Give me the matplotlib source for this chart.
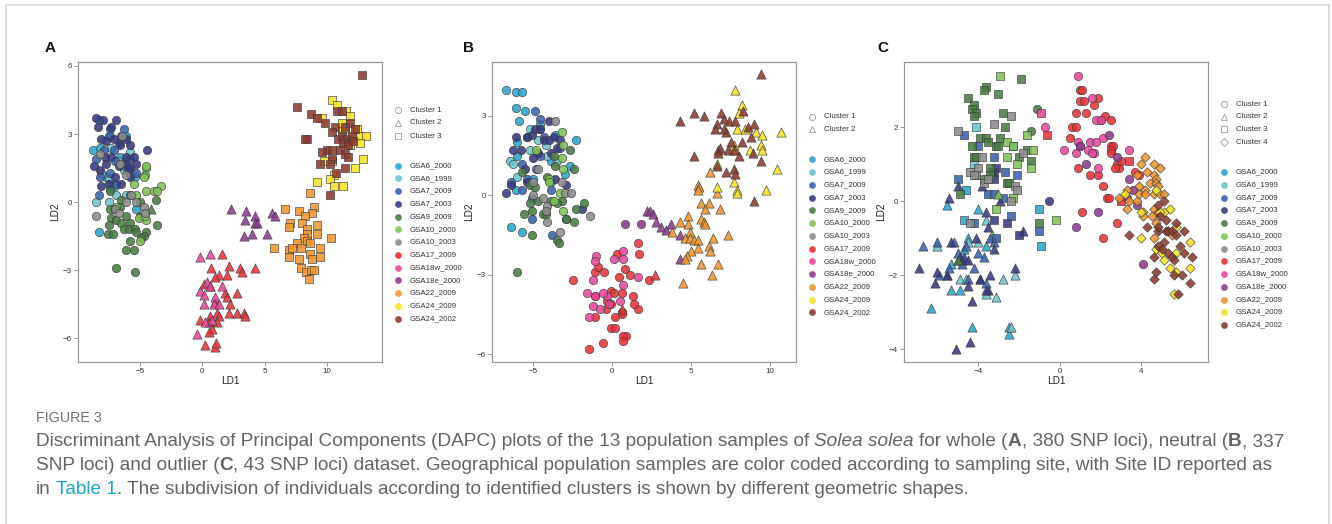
import matplotlib
matplotlib.use("Agg")
import matplotlib.pyplot as plt
from matplotlib.lines import Line2D
from matplotlib.patches import Rectangle

W, H = 1332, 524
plt.rcParams['font.family'] = ['Liberation Sans', 'DejaVu Sans']

pops = ['GSA6_2000', 'GSA6_1999', 'GSA7_2009', 'GSA7_2003', 'GSA9_2009',
        'GSA10_2000', 'GSA10_2003', 'GSA17_2009', 'GSA18w_2000', 'GSA18e_2000',
        'GSA22_2009', 'GSA24_2009', 'GSA24_2002']
pop_colors = ['#2ba6cb', '#6cc4cc', '#3a62ae', '#363a80', '#4a7c45',
              '#80c257', '#8c8c8c', '#e8333a', '#e8479b', '#8b3c8d',
              '#f0952e', '#f5e423', '#8c3a2e']
cluster_markers = {1: 'o', 2: '^', 3: 's', 4: 'D'}
cluster_sizes = {1: 36, 2: 44, 3: 31, 4: 23}

# (LD1, LD2, cluster) for each individual
A_points = {
    'GSA6_2000': [(-8.8, 2.3, 1), (-8.2, 2.4, 1), (-6.1, 2.9, 1), (-8.3, 3.6, 1), (-5.4, 1.1, 1), (-5.3, -0.3, 1),
                  (-8.3, -1.3, 1), (-7.4, 2.9, 1), (-6.6, 2.0, 1), (-7.0, 0.7, 1), (-7.7, 1.1, 1)],
    'GSA6_1999': [(-8.5, 0.0, 1), (-7.5, 0.0, 1), (-6.9, 0.3, 1), (-7.3, 2.4, 1), (-5.8, 2.2, 1), (-8.1, 1.3, 1),
                  (-6.8, 1.8, 1), (-6.3, 1.4, 1), (-7.5, 1.0, 1), (-6.1, 0.3, 1)],
    'GSA7_2009': [(-7.4, 3.2, 1), (-7.5, 2.9, 1), (-6.7, 2.6, 1), (-7.1, 2.3, 1), (-8.5, 1.9, 1), (-7.9, 2.3, 1),
                  (-6.2, 1.6, 1), (-7.4, 1.3, 1), (-8.2, 1.1, 1), (-6.9, 0.8, 1), (-5.8, 1.9, 1), (-6.3, 3.2, 1),
                  (-5.3, 1.3, 1), (-8.3, 0.3, 1), (-7.4, 0.6, 1), (-5.9, 1.4, 1), (-7.0, 1.8, 1)],
    'GSA7_2003': [(-8.5, 3.7, 1), (-8.0, 3.6, 1), (-6.9, 3.6, 1), (-7.3, 3.3, 1), (-8.4, 3.3, 1), (-8.1, 2.8, 1),
                  (-7.7, 2.7, 1), (-7.1, 2.8, 1), (-6.5, 2.9, 1), (-6.1, 2.8, 1), (-5.8, 2.5, 1), (-5.5, 2.0, 1),
                  (-4.4, 2.3, 1), (-8.7, 1.6, 1), (-8.2, 1.4, 1), (-7.7, 1.7, 1), (-6.7, 1.6, 1), (-6.1, 1.7, 1),
                  (-5.8, 1.5, 1), (-5.3, 1.7, 1), (-7.0, 1.1, 1), (-8.1, 0.7, 1), (-7.5, 0.8, 1), (-6.5, 0.8, 1),
                  (-6.1, 2.0, 1), (-6.6, 2.5, 1), (-5.8, 1.1, 1), (-7.8, 2.0, 1), (-7.3, 2.0, 1)],
    'GSA9_2009': [(-7.4, 0.5, 1), (-6.5, 0.1, 1), (-7.1, -0.3, 1), (-7.4, -0.3, 1), (-6.6, -0.2, 1), (-5.0, 0.0, 1),
                  (-5.8, 0.3, 1), (-7.3, -0.7, 1), (-6.9, -0.8, 1), (-6.5, -0.9, 1), (-6.1, -0.6, 1), (-5.8, -0.9, 1),
                  (-7.5, -1.0, 1), (-6.3, -1.2, 1), (-5.9, -1.2, 1), (-5.4, -1.2, 1), (-5.3, -1.3, 1), (-4.5, -1.3, 1),
                  (-4.7, -1.5, 1), (-4.9, -1.6, 1), (-5.8, -1.7, 1), (-6.1, -2.1, 1), (-5.5, -2.1, 1), (-6.9, -2.9, 1),
                  (-5.4, -3.1, 1), (-3.7, 0.1, 1), (-3.6, -1.0, 1), (-7.6, -1.4, 1), (-7.2, -1.4, 1), (-5.0, -0.6, 1),
                  (-4.1, -0.3, 2)],
    'GSA10_2000': [(-4.5, 1.5, 1), (-4.6, 1.2, 1), (-4.7, 1.1, 1), (-3.3, 0.7, 1), (-3.9, 0.5, 1), (-3.6, 0.5, 1),
                   (-4.5, 0.5, 1), (-5.3, 0.3, 1), (-5.5, 0.8, 1), (-4.5, -0.8, 1), (-5.1, -0.7, 1), (-5.0, -1.7, 1),
                   (-4.6, -0.6, 1), (-6.9, -0.2, 1), (-4.5, 1.6, 1)],
    'GSA10_2003': [(-6.4, 2.9, 1), (-8.2, 2.1, 1), (-8.5, -0.6, 1), (-7.0, -0.3, 1), (-6.7, -0.5, 1), (-6.1, 1.2, 1),
                   (-5.7, 0.3, 1), (-5.3, 0.0, 1), (-4.7, -0.2, 1), (-4.6, -0.5, 1), (-6.1, 0.0, 1), (-6.6, 1.7, 1)],
    'GSA17_2009': [(1.6, -2.3, 2), (0.7, -2.9, 2), (2.1, -2.8, 2), (3.0, -2.9, 2), (4.2, -2.9, 2), (1.3, -3.2, 2),
                   (2.0, -3.2, 2), (3.2, -3.1, 2), (1.0, -3.3, 2), (0.6, -3.7, 2), (1.8, -4.0, 2), (2.8, -4.0, 2),
                   (2.0, -4.2, 2), (2.2, -4.5, 2), (1.0, -4.4, 2), (1.2, -4.9, 2), (-0.2, -5.2, 2), (0.6, -5.0, 2),
                   (1.3, -5.0, 2), (2.1, -4.9, 2), (2.8, -4.9, 2), (3.3, -4.9, 2), (3.4, -5.0, 2), (0.5, -5.3, 2),
                   (1.2, -5.3, 2), (0.8, -5.6, 2), (0.5, -5.7, 2), (0.2, -6.3, 2), (1.0, -6.4, 2), (1.1, -6.2, 2),
                   (0.1, -3.6, 2)],
    'GSA18w_2000': [(-0.2, -2.4, 2), (0.6, -2.3, 2), (0.4, -3.5, 2), (0.6, -3.7, 2), (1.6, -3.7, 2), (-0.2, -3.9, 2),
                    (0.1, -4.1, 2), (1.0, -4.2, 2), (0.1, -4.5, 2), (0.9, -4.5, 2), (1.3, -4.5, 2), (0.2, -5.3, 2),
                    (-0.4, -5.8, 2), (0.8, -5.2, 2)],
    'GSA18e_2000': [(2.3, -0.3, 2), (3.5, -0.4, 2), (4.2, -0.6, 2), (3.4, -0.8, 2), (4.2, -0.9, 2), (4.4, -0.9, 2),
                    (5.6, -0.5, 2), (5.8, -0.6, 2), (4.0, -1.4, 2), (3.3, -1.5, 2), (5.2, -1.4, 2)],
    'GSA22_2009': [(6.6, -0.3, 3), (7.7, -0.4, 3), (8.9, -0.2, 3), (8.8, -0.5, 3), (8.2, -0.6, 3), (7.0, -0.9, 3),
                   (6.9, -1.1, 3), (8.0, -0.9, 3), (8.4, -1.2, 3), (9.2, -1.0, 3), (8.4, -1.4, 3), (9.2, -1.4, 3),
                   (10.3, -1.6, 3), (8.1, -1.6, 3), (8.4, -1.7, 3), (8.6, -1.8, 3), (7.6, -1.8, 3), (5.7, -2.0, 3),
                   (6.9, -2.1, 3), (7.2, -2.0, 3), (7.9, -2.0, 3), (9.4, -2.0, 3), (8.6, -2.3, 3), (9.4, -2.4, 3),
                   (6.9, -2.4, 3), (7.7, -2.5, 3), (8.8, -2.5, 3), (7.9, -2.9, 3), (8.3, -3.1, 3), (8.7, -3.0, 3),
                   (8.9, -3.0, 3), (8.5, -3.4, 3), (8.6, 0.4, 3)],
    'GSA24_2009': [(10.4, 4.5, 3), (10.8, 4.3, 3), (9.6, 3.7, 3), (11.5, 4.0, 3), (11.8, 3.8, 3), (11.2, 3.2, 3),
                   (11.4, 3.2, 3), (12.4, 3.2, 3), (12.6, 2.9, 3), (13.1, 2.9, 3), (11.8, 2.5, 3), (12.6, 2.6, 3),
                   (9.7, 1.8, 3), (10.4, 1.8, 3), (12.9, 1.9, 3), (12.2, 1.5, 3), (10.5, 1.2, 3), (10.2, 1.0, 3),
                   (9.2, 0.9, 3), (10.5, 0.7, 3), (11.3, 0.7, 3), (11.2, 3.5, 3)],
    'GSA24_2002': [(12.8, 5.6, 3), (7.6, 4.2, 3), (8.7, 3.9, 3), (9.2, 3.7, 3), (9.8, 3.5, 3), (10.8, 4.0, 3),
                   (11.2, 4.0, 3), (11.4, 3.3, 3), (11.8, 3.5, 3), (10.6, 3.3, 3), (10.4, 3.1, 3), (10.9, 2.8, 3),
                   (11.2, 2.9, 3), (11.6, 2.8, 3), (12.0, 2.9, 3), (12.2, 3.2, 3), (11.3, 2.6, 3), (11.7, 2.5, 3),
                   (12.1, 2.7, 3), (8.4, 2.8, 3), (8.2, 2.8, 3), (10.0, 2.3, 3), (9.6, 2.2, 3), (10.4, 2.3, 3),
                   (11.0, 2.3, 3), (11.4, 2.1, 3), (11.7, 2.0, 3), (10.4, 1.9, 3), (10.2, 1.7, 3), (9.4, 1.7, 3),
                   (11.4, 1.5, 3), (10.7, 1.3, 3), (10.2, 0.3, 3)],
}

B_points = {
    'GSA6_2000': [(-6.7, 4.0, 1), (-6.1, 3.9, 1), (-5.7, 3.9, 1), (-6.1, 3.3, 1), (-5.5, 3.2, 1), (-4.6, 2.7, 1),
                  (-5.9, 2.8, 1), (-6.0, 2.0, 1), (-6.0, 1.5, 1), (-5.4, 2.2, 1), (-3.6, 2.3, 1), (-2.3, 2.1, 1),
                  (-3.0, 0.8, 1), (-2.7, 1.1, 1), (-6.4, -1.2, 1), (-5.7, -1.4, 1), (-4.6, 2.5, 1), (-3.9, 1.3, 1),
                  (-5.0, 0.6, 1), (-6.1, 0.2, 1), (-3.9, 0.5, 1)],
    'GSA6_1999': [(-6.5, 1.3, 1), (-6.3, 1.2, 1), (-6.0, 0.7, 1), (-5.2, 1.7, 1), (-4.1, 1.5, 1), (-4.7, 2.1, 1),
                  (-3.5, 1.3, 1), (-5.2, 2.5, 1), (-4.2, 1.9, 1)],
    'GSA7_2009': [(-4.9, 3.2, 1), (-4.6, 2.9, 1), (-4.3, 2.2, 1), (-4.6, 1.5, 1), (-5.7, 1.2, 1), (-5.4, 0.6, 1),
                  (-5.7, 0.2, 1), (-6.4, 0.5, 1), (-5.1, -0.9, 1), (-3.8, -1.5, 1), (-2.9, -0.9, 1), (-3.9, 0.2, 1),
                  (-4.8, 1.0, 1), (-3.3, 1.8, 1), (-5.1, -0.1, 1)],
    'GSA7_2003': [(-6.1, 2.2, 1), (-6.3, 1.7, 1), (-5.8, 1.7, 1), (-5.4, 2.2, 1), (-5.1, 2.3, 1), (-4.9, 2.5, 1),
                  (-4.6, 2.5, 1), (-4.0, 2.8, 1), (-4.3, 2.1, 1), (-4.0, 2.1, 1), (-3.7, 2.2, 1), (-3.3, 2.1, 1),
                  (-3.5, 1.8, 1), (-3.9, 1.6, 1), (-4.7, 1.6, 1), (-5.0, 1.4, 1), (-5.5, 1.0, 1), (-6.7, 0.1, 1),
                  (-6.4, 0.4, 1), (-5.4, 0.5, 1), (-2.9, 0.4, 1), (-1.9, -0.5, 1), (-3.6, 0.6, 1)],
    'GSA9_2009': [(-5.7, 0.9, 1), (-5.2, 0.4, 1), (-4.9, 0.3, 1), (-4.7, -0.2, 1), (-5.2, -0.3, 1), (-5.6, -0.7, 1),
                  (-5.1, -0.6, 1), (-5.1, -1.5, 1), (-4.4, -0.7, 1), (-4.1, 0.7, 1), (-3.6, 1.1, 1), (-3.7, 1.5, 1),
                  (-3.2, -0.2, 1), (-3.5, -0.3, 1), (-2.9, -0.9, 1), (-2.4, -1.0, 1), (-3.5, -1.7, 1), (-3.4, -1.8, 1),
                  (-6.0, -2.9, 1), (-2.3, -0.5, 1), (-1.8, -0.3, 1), (-2.7, 1.7, 1), (-2.4, 1.0, 1), (-3.9, -0.2, 1),
                  (-4.2, -0.7, 1)],
    'GSA10_2000': [(-3.2, 2.4, 1), (-3.1, 1.9, 1), (-3.2, 1.4, 1), (-3.1, 1.0, 1), (-4.0, 0.6, 1), (-3.3, 0.1, 1),
                   (-3.7, -0.2, 1), (-3.1, -0.6, 1), (-4.8, 1.7, 1), (-4.0, 0.5, 1)],
    'GSA10_2003': [(-3.6, 2.8, 1), (-4.7, 1.0, 1), (-5.0, 0.5, 1), (-5.0, 0.0, 1), (-4.4, -0.1, 1), (-4.1, -0.4, 1),
                   (-4.2, -0.6, 1), (-4.1, -1.0, 1), (-3.3, -1.4, 1), (-3.0, 0.1, 1), (-2.6, 0.1, 1), (-1.4, -0.8, 1),
                   (-3.2, 0.5, 1)],
    'GSA17_2009': [(1.6, -1.8, 1), (1.7, -2.2, 1), (0.3, -2.2, 1), (0.8, -2.8, 1), (1.1, -3.0, 1), (0.4, -3.1, 1),
                   (-1.1, -2.9, 1), (-0.5, -2.9, 1), (-0.9, -2.7, 1), (-2.5, -3.2, 1), (-0.1, -3.6, 1), (0.1, -3.7, 1),
                   (0.6, -3.7, 1), (1.3, -3.8, 1), (1.6, -4.3, 1), (1.4, -4.1, 1), (-0.3, -4.0, 1), (-0.1, -4.1, 1),
                   (-0.4, -4.3, 1), (0.6, -4.4, 1), (0.6, -4.5, 1), (0.2, -4.6, 1), (-1.1, -4.6, 1), (-0.1, -5.0, 1),
                   (0.2, -5.0, 1), (0.9, -5.3, 1), (0.7, -5.3, 1), (0.7, -5.5, 1), (-0.6, -5.6, 1), (-1.5, -5.8, 1),
                   (-1.1, -3.8, 1), (2.3, -3.2, 1), (2.7, -3.0, 2), (0.6, -4.3, 2)],
    'GSA18w_2000': [(-1.0, -2.3, 1), (-1.1, -2.5, 1), (0.1, -2.4, 1), (0.7, -2.4, 1), (0.7, -2.1, 1), (-1.2, -3.2, 1),
                    (1.6, -3.1, 1), (0.7, -3.4, 1), (-1.6, -3.7, 1), (-1.1, -3.8, 1), (-0.3, -3.8, 1), (-0.2, -4.1, 1),
                    (-1.2, -4.2, 1), (-0.8, -4.3, 1), (0.5, -4.0, 1), (-1.5, -4.6, 1), (-0.6, -3.7, 1)],
    'GSA18e_2000': [(0.8, -1.1, 1), (1.8, -1.1, 1), (2.2, -0.6, 2), (2.4, -0.6, 2), (2.6, -0.7, 2), (2.8, -1.0, 2),
                    (3.1, -1.2, 2), (3.7, -1.1, 2), (3.4, -1.3, 2), (4.3, -1.5, 2), (4.3, -2.4, 2)],
    'GSA22_2009': [(6.2, 0.9, 2), (5.4, 0.4, 2), (5.5, 0.3, 2), (5.4, 0.2, 2), (5.6, -0.3, 2), (6.1, -0.3, 2),
                   (5.9, -0.5, 2), (6.8, -0.5, 2), (4.8, -0.8, 2), (4.3, -1.0, 2), (4.8, -1.1, 2), (5.6, -0.9, 2),
                   (5.8, -1.0, 2), (5.9, -1.1, 2), (3.8, -1.4, 2), (4.9, -1.4, 2), (4.6, -1.6, 2), (4.9, -1.6, 2),
                   (5.2, -1.7, 2), (5.4, -1.7, 2), (6.4, -1.6, 2), (7.3, -1.5, 2), (6.1, -1.9, 2), (5.0, -2.1, 2),
                   (5.4, -2.0, 2), (6.2, -2.1, 2), (4.7, -2.3, 2), (4.6, -2.4, 2), (5.6, -2.6, 2), (6.7, -2.6, 2),
                   (6.3, -3.0, 2), (4.5, -3.3, 2), (6.6, 0.1, 2)],
    'GSA24_2009': [(7.8, 4.0, 2), (8.2, 3.4, 2), (8.0, 3.1, 2), (7.9, 2.5, 2), (8.4, 2.5, 2), (9.1, 2.4, 2),
                   (9.5, 2.3, 2), (10.7, 2.4, 2), (9.4, 1.9, 2), (9.5, 1.7, 2), (7.7, 1.9, 2), (7.8, 1.7, 2),
                   (8.7, 1.7, 2), (6.6, 1.2, 2), (7.7, 0.5, 2), (7.9, 0.2, 2), (7.9, 0.1, 2), (9.7, 0.2, 2),
                   (10.4, 1.0, 2), (6.6, 0.3, 2)],
    'GSA24_2002': [(9.4, 4.6, 2), (4.3, 2.8, 2), (5.2, 3.1, 2), (5.8, 3.0, 2), (6.9, 3.1, 2), (7.1, 2.9, 2),
                   (6.6, 2.7, 2), (6.5, 2.5, 2), (7.4, 2.8, 2), (7.1, 2.5, 2), (7.2, 2.4, 2), (8.3, 3.2, 2),
                   (7.8, 2.8, 2), (9.0, 2.7, 2), (8.6, 2.6, 2), (8.8, 2.2, 2), (8.2, 2.0, 2), (7.5, 2.0, 2),
                   (6.8, 1.8, 2), (6.7, 1.7, 2), (7.3, 1.7, 2), (7.7, 1.7, 2), (8.0, 1.5, 2), (8.9, 1.6, 2),
                   (9.4, 1.3, 2), (5.2, 1.5, 2), (6.6, 1.1, 2), (7.2, 0.9, 2), (7.7, 1.0, 2), (7.8, 0.8, 2),
                   (9.0, -0.2, 2), (6.7, 1.6, 2)],
}

C_points = {
    'GSA6_2000': [(-2.3, 1.5, 3), (-4.6, 0.3, 3), (-4.7, -0.5, 3), (-1.0, -0.2, 3), (-0.9, -1.2, 3),
                  (-5.5, -0.1, 2), (-4.0, -0.2, 2), (-4.5, -1.0, 2), (-3.6, -1.2, 2), (-6.3, -2.9, 2), (-5.3, -2.4, 2),
                  (-4.9, -2.4, 2), (-4.3, -3.4, 2), (-2.5, -3.6, 2), (-5.3, -1.7, 2), (-4.7, -1.3, 2), (-2.5, -3.4, 2)],
    'GSA6_1999': [(-4.1, 2.0, 3), (-4.2, 1.0, 3),
                  (-4.9, -2.1, 2), (-3.6, -0.5, 2), (-3.3, -0.9, 2), (-3.6, -2.5, 2), (-3.1, -2.6, 2), (-2.8, -2.1, 2),
                  (-2.4, -3.4, 2), (-2.2, -2.0, 2), (-4.5, -1.1, 2), (-4.0, -1.1, 2), (-4.6, -2.1, 2), (-6.0, -1.2, 2)],
    'GSA7_2009': [(-4.7, 1.8, 3), (-4.0, 1.5, 3), (-3.2, 1.2, 3), (-3.2, 0.8, 3), (-3.5, 0.2, 3), (-3.2, 0.2, 3),
                  (-2.8, 0.1, 3), (-2.1, 0.7, 3), (-2.7, 0.8, 3), (-2.4, -0.4, 3), (-4.2, -0.6, 3), (-3.1, -1.0, 3),
                  (-1.0, -0.8, 3), (-5.0, 0.6, 3),
                  (-6.7, -1.2, 2), (-6.0, -1.1, 2), (-5.2, -1.1, 2), (-5.9, -2.0, 2), (-5.5, -2.0, 2), (-4.6, -1.2, 2),
                  (-4.8, -1.7, 2), (-4.5, -2.1, 2), (-3.9, -2.1, 2), (-3.7, -1.5, 2), (-3.4, -1.0, 2), (-4.0, -1.4, 2),
                  (-5.4, -1.8, 2), (-5.0, -1.4, 2), (-4.2, -1.8, 2), (-3.2, -1.1, 2), (-3.6, -2.2, 2)],
    'GSA7_2003': [(-3.1, 0.9, 3), (-3.3, 0.8, 3), (-3.2, 0.6, 3), (-2.0, -0.9, 3), (-2.6, -0.6, 3), (-3.2, -0.5, 3),
                  (-0.5, 0.0, 1),
                  (-6.9, -1.8, 2), (-5.4, 0.1, 2), (-6.0, -1.9, 2), (-6.1, -2.2, 2), (-5.3, -1.1, 2), (-5.1, -4.0, 2),
                  (-4.4, -3.8, 2), (-4.3, -2.7, 2), (-4.9, -1.5, 2), (-4.8, -1.6, 2), (-4.7, -1.5, 2), (-4.5, -1.6, 2),
                  (-5.0, -1.6, 2), (-5.5, -2.0, 2), (-4.5, -2.3, 2), (-4.1, -1.0, 2), (-3.6, -0.3, 2), (-3.5, -0.7, 2),
                  (-3.2, -1.3, 2), (-3.4, -2.0, 2), (-3.9, -2.1, 2), (-3.5, -2.4, 2), (-3.6, -2.4, 2), (-2.2, -1.8, 2),
                  (-1.8, -0.8, 2), (-2.9, 0.0, 2), (-3.8, 0.4, 2), (-5.0, 0.4, 2)],
    'GSA9_2009': [(-3.6, 3.1, 3), (-3.7, 3.0, 3), (-4.5, 2.8, 3), (-4.2, 2.6, 3), (-4.3, 2.5, 3), (-4.1, 2.4, 3),
                  (-4.2, 2.3, 3), (-3.0, 2.9, 3), (-1.9, 3.3, 3), (-2.8, 2.4, 3), (-2.7, 2.0, 3), (-4.3, 1.5, 3),
                  (-3.9, 1.7, 3), (-3.6, 1.7, 3), (-3.5, 1.6, 3), (-3.1, 1.5, 3), (-3.0, 1.5, 3), (-2.9, 1.7, 3),
                  (-4.2, 1.2, 3), (-4.1, 1.2, 3), (-3.4, 0.9, 3), (-3.7, 0.6, 3), (-4.9, 0.2, 3), (-2.6, 0.5, 3),
                  (-2.5, 0.5, 3), (-2.0, 1.2, 3), (-1.6, 1.4, 3), (-1.4, 1.1, 3), (-1.0, -0.6, 3), (-3.4, 0.7, 3),
                  (-1.1, 2.5, 1), (-1.4, 1.9, 1), (-5.0, -1.6, 2)],
    'GSA10_2000': [(-2.9, 3.4, 3), (-2.6, 1.6, 3), (-2.3, 1.5, 3), (-2.6, 1.2, 3), (-2.1, 1.0, 3), (-1.4, 0.9, 3),
                   (-1.3, 1.4, 3), (-1.6, 1.8, 3), (-2.3, 0.1, 3), (-3.1, -0.2, 3), (-0.2, -0.5, 3), (-3.0, 0.2, 2)],
    'GSA10_2003': [(-5.0, 1.9, 3), (-3.2, 2.1, 3), (-2.4, 2.3, 3), (-3.8, 1.2, 3), (-4.4, 0.8, 3), (-4.0, 0.9, 3),
                   (-4.1, 0.7, 3), (-3.7, 0.5, 3), (-3.5, 0.6, 3), (-4.2, 0.7, 3), (-4.4, -0.6, 3), (-2.2, 0.4, 3),
                   (-2.1, 0.3, 3), (-2.4, 0.0, 3), (-1.8, 1.3, 3)],
    'GSA17_2009': [(-0.6, 1.8, 3), (3.4, 1.1, 3), (3.0, 0.0, 3),
                   (1.0, 3.0, 1), (1.1, 3.0, 1), (1.0, 2.7, 1), (1.2, 2.7, 1), (0.8, 2.4, 1), (1.3, 2.4, 1),
                   (1.9, 2.8, 1), (2.0, 2.2, 1), (2.2, 2.3, 1), (2.5, 2.2, 1), (1.7, 2.6, 1), (0.6, 2.0, 1),
                   (0.8, 2.0, 1), (0.5, 1.7, 1), (2.5, 1.5, 1), (2.6, 1.5, 1), (2.5, 1.4, 1), (2.5, 1.3, 1),
                   (2.8, 1.0, 1), (2.9, 0.9, 1), (3.0, 1.1, 1), (2.1, 0.4, 1), (2.3, 0.1, 1), (2.4, 0.1, 1),
                   (0.9, 0.9, 1), (1.5, 0.7, 1), (1.9, 0.7, 1), (1.1, -0.3, 1), (2.8, -0.6, 1), (2.1, -1.0, 1),
                   (3.7, 0.8, 1), (3.9, 0.7, 1), (2.7, 0.9, 1)],
    'GSA18w_2000': [(-0.9, 2.4, 3),
                    (-0.7, 2.0, 1), (0.9, 3.4, 1), (1.6, 2.8, 1), (1.8, 2.2, 1), (2.0, 2.2, 1), (0.2, 1.4, 1),
                    (0.9, 1.6, 1), (0.8, 1.3, 1), (1.4, 1.4, 1), (1.5, 1.6, 1), (1.7, 1.3, 1), (1.8, 1.6, 1),
                    (2.1, 1.7, 1), (3.4, 1.4, 1), (1.9, 0.9, 1), (1.0, 1.5, 1), (1.6, 1.3, 1)],
    'GSA18e_2000': [(1.0, 1.5, 1), (2.4, 1.8, 1), (2.8, 1.2, 1), (1.3, 1.0, 1), (3.4, 0.6, 1), (3.6, 0.3, 1),
                    (3.8, -0.1, 1), (1.9, -0.3, 1), (0.8, -0.7, 1), (4.1, -1.7, 1), (3.3, 0.1, 1)],
    'GSA22_2009': [(4.2, 1.2, 4), (4.0, 1.0, 4), (4.6, 1.0, 4), (4.9, 0.9, 4), (3.8, 0.7, 4), (4.3, 0.8, 4),
                   (4.6, 0.7, 4), (4.7, 0.6, 4), (3.9, 0.4, 4), (4.2, 0.3, 4), (4.4, 0.5, 4), (4.7, 0.5, 4),
                   (4.8, 0.4, 4), (3.3, 0.3, 4), (2.9, 0.1, 4), (3.4, 0.0, 4), (3.3, -0.2, 4), (3.9, 0.2, 4),
                   (3.8, 0.0, 4), (4.2, 0.2, 4), (4.6, 0.2, 4), (4.9, 0.2, 4), (5.1, 0.2, 4), (4.1, -0.3, 4),
                   (4.6, -0.2, 4), (4.8, -0.3, 4), (4.5, -0.4, 4), (4.7, -0.6, 4), (4.1, -0.4, 4), (4.6, -1.0, 4),
                   (5.3, -0.8, 4), (5.5, -0.9, 4)],
    'GSA24_2009': [(3.2, 0.2, 4), (4.0, -0.3, 4), (4.7, 0.3, 4), (5.1, -0.3, 4), (5.4, -0.2, 4), (4.0, -1.0, 4),
                   (4.7, -1.3, 4), (5.0, -1.4, 4), (5.1, -1.6, 4), (5.4, -1.8, 4), (5.7, -1.9, 4), (6.4, -1.1, 4),
                   (6.4, -1.8, 4), (5.6, -2.5, 4), (5.7, -1.4, 4), (5.7, -0.7, 4), (4.9, -0.3, 4)],
    'GSA24_2002': [(4.8, -0.1, 4), (5.1, 0.0, 4), (4.9, -0.4, 4), (5.2, -0.5, 4), (5.7, -0.6, 4), (6.1, -0.8, 4),
                   (5.2, -0.8, 4), (5.3, -0.8, 4), (5.5, -0.8, 4), (5.7, -0.9, 4), (4.8, -0.8, 4), (5.1, -1.1, 4),
                   (4.8, -1.2, 4), (5.0, -1.3, 4), (5.3, -1.4, 4), (5.5, -1.5, 4), (5.6, -1.6, 4), (6.1, -1.4, 4),
                   (5.9, -1.2, 4), (6.5, -1.5, 4), (6.0, -2.0, 4), (5.6, -2.0, 4), (6.4, -2.2, 4), (4.7, -1.9, 4),
                   (4.6, -2.1, 4), (4.6, -1.5, 4), (5.8, -2.5, 4), (3.4, -0.9, 4), (4.3, -0.7, 4), (4.8, -0.7, 4)],
}

caption_title = "FIGURE 3"
caption_lines = [
    [("Discriminant Analysis of Principal Components (DAPC) plots of the 13 population samples of ", {}),
     ("Solea solea", {'style': 'italic'}), (" for whole (", {}), ("A", {'weight': 'bold'}),
     (", 380 SNP loci), neutral (", {}), ("B", {'weight': 'bold'}), (", 337", {})],
    [("SNP loci) and outlier (", {}), ("C", {'weight': 'bold'}),
     (", 43 SNP loci) dataset. Geographical population samples are color coded according to sampling site, "
      "with Site ID reported as", {})],
    [("in ", {}), ("Table 1", {'color': '#1aa6c8'}),
     (". The subdivision of individuals according to identified clusters is shown by different geometric shapes.", {})],
]


def fpos(x, y):
    # pixel position (from top-left) to figure fraction
    return x / W, 1 - y / H


fig = plt.figure(figsize=(W / 100, H / 100), dpi=100)
fig.add_artist(Rectangle((6 / W, -0.1), 1323 / W, 1.1 - 5 / H, transform=fig.transFigure,
                         fill=False, edgecolor='#dadada', linewidth=1.3))


def draw_panel(left, pts, xlim, ylim, xticks, yticks):
    ax = fig.add_axes([left / W, (H - 361.7) / H, 303.4 / W, 299.4 / H])
    for name, color in zip(pops, pop_colors):
        for k, marker in cluster_markers.items():
            sel = [(x, y) for x, y, c in pts.get(name, []) if c == k]
            if not sel:
                continue
            xs, ys = zip(*sel)
            ax.scatter(xs, ys, s=cluster_sizes[k], marker=marker, c=color, edgecolors='#3c3c3c',
                       linewidths=0.5, alpha=0.88, zorder=3)
    ax.set_xlim(xlim)
    ax.set_ylim(ylim)
    ax.set_xticks(xticks)
    ax.set_yticks(yticks)
    for sp in ax.spines.values():
        sp.set_color('#9a9a9a')
        sp.set_linewidth(0.9)
    ax.tick_params(length=3, width=0.6, color='#8a8a8a', labelsize=5.8, labelcolor='#333333', pad=1.5)
    ax.set_xlabel('LD1', fontsize=7.2, color='#222222', labelpad=1)
    ax.set_ylabel('LD2', fontsize=7.2, color='#222222', labelpad=2)
    return ax


def draw_legend(mx, tx, cl_y, pop_y0):
    for i, cy in enumerate(cl_y):
        fx, fy = fpos(mx, cy)
        fig.add_artist(Line2D([fx], [fy], marker=cluster_markers[i + 1], markersize=4.4 if i < 3 else 4.0,
                              mfc='none', mec='#9a9a9a', mew=0.6, transform=fig.transFigure))
        fig.text(tx / W, fy, f"Cluster {i + 1}", fontsize=5.7, color='#333333', va='center')
    for j, (name, color) in enumerate(zip(pops, pop_colors)):
        fx, fy = fpos(mx, pop_y0 + j * 12.75)
        fig.add_artist(Line2D([fx], [fy], marker='o', markersize=4.5, mfc=color, mec=color, mew=0.3,
                              alpha=0.9, transform=fig.transFigure))
        fig.text(tx / W, fy, name, fontsize=5.7, color='#333333', va='center')


draw_panel(78.3, A_points, (-9.94, 14.36), (-7.03, 6.16), [-5, 0, 5, 10], [-6, -3, 0, 3, 6])
draw_legend(398, 410, [110, 123, 136], 165.7)
draw_panel(492.3, B_points, (-7.59, 11.61), (-6.29, 5.03), [-5, 0, 5, 10], [-6, -3, 0, 3])
draw_legend(812, 824, [116.7, 129.3], 159.3)
draw_panel(904.3, C_points, (-7.61, 7.25), (-4.34, 3.76), [-4, 0, 4], [-4, -2, 0, 2])
draw_legend(1224, 1235.7, [104, 116.7, 129.3, 142], 172)

for letter, (lx, ly) in zip("ABC", [(50, 48), (468, 48), (883, 48)]):
    fx, fy = fpos(lx, ly)
    fig.text(fx, fy, letter, fontsize=11, weight='bold', ha='center', va='center', color='#111111')

# caption below the panels
cap_family = ['Liberation Sans Narrow', 'Liberation Sans', 'DejaVu Sans']
renderer = fig.canvas.get_renderer()


def text_width(s, size, style):
    t = fig.text(0, 0, s, fontsize=size, family=cap_family, **style)
    w = t.get_window_extent(renderer=renderer).width
    t.remove()
    return w


def draw_runs(runs, x0, y, size, draw=True):
    space = text_width("a a", size, {}) - text_width("aa", size, {})
    x = x0
    for s, style in runs:
        st = {k: v for k, v in style.items() if k != 'color'}
        x += (len(s) - len(s.lstrip(' '))) * space
        core = s.strip(' ')
        if draw:
            fx, fy = fpos(x, y)
            fig.text(fx, fy, core, fontsize=size, family=cap_family, va='baseline',
                     color=style.get('color', '#636466'), **st)
        x += text_width(core, size, st)
        x += (len(s) - len(s.rstrip(' '))) * space
    return x - x0


base = 10.0
cap_size = base * 1254 / draw_runs(caption_lines[0], 36, 446.5, base, draw=False)
fx, fy = fpos(36, 422)
fig.text(fx, fy, caption_title, fontsize=cap_size * 0.75, family=cap_family, color='#707174', va='baseline')
for line, by in zip(caption_lines, [446.5, 470, 493.5]):
    draw_runs(line, 36, by, cap_size)

fig.savefig('out.png', dpi=100)
